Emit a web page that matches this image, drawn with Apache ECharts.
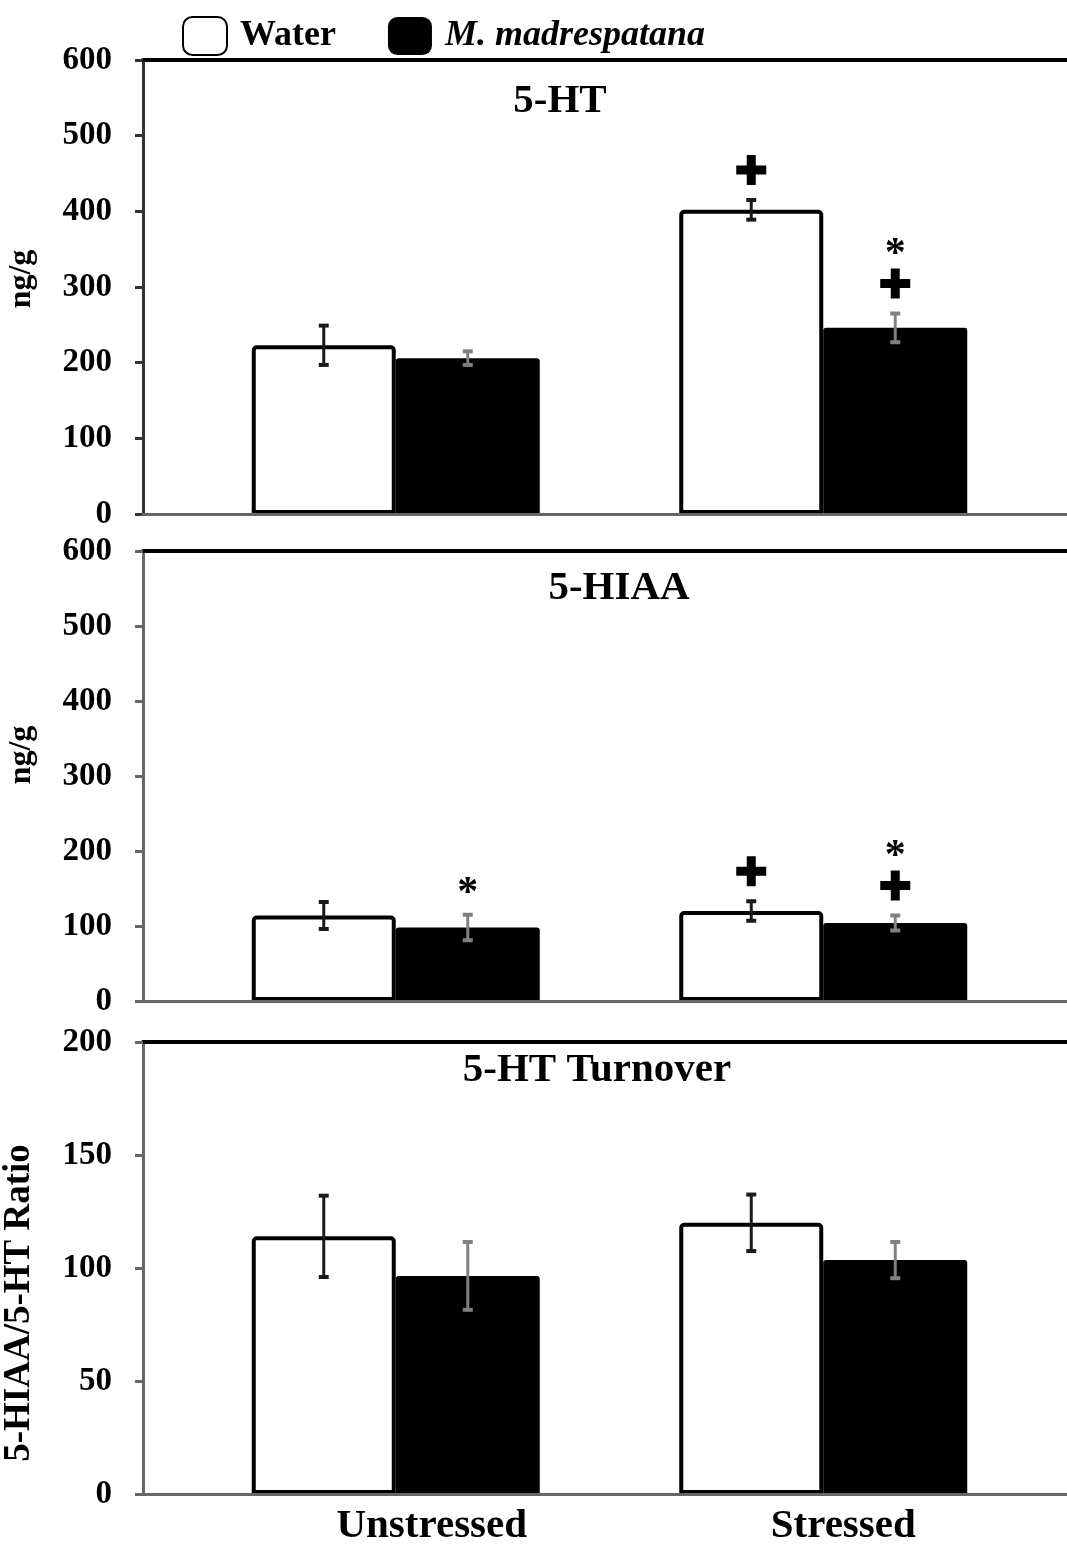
<!DOCTYPE html>
<html>
<head>
<meta charset="utf-8">
<script src="https://cdn.jsdelivr.net/npm/echarts@6/dist/echarts.min.js"></script>
<style>
  html, body { margin: 0; padding: 0; background: #fff; }
  #chart { width: 1067px; height: 1548px; }
</style>
</head>
<body>
<div id="chart"></div>
<script>
// ---- data ----
const categories = ['Unstressed', 'Stressed'];
const seriesNames = ['Water', 'M. madrespatana'];

// 5-HT (ng/g)
const htWater = [223, 402];
const htWaterErr = [26, 13];
const htMad = [206, 246];
const htMadErr = [9, 19];
const htWaterMarks = ['', '+'];
const htMadMarks = ['', '*+'];

// 5-HIAA (ng/g)
const hiaaWater = [114, 120];
const hiaaWaterErr = [18, 13];
const hiaaMad = [98, 104];
const hiaaMadErr = [17, 10];
const hiaaWaterMarks = ['', '+'];
const hiaaMadMarks = ['*', '*+'];

// 5-HT turnover (5-HIAA/5-HT ratio)
const ratioWater = [114, 120];
const ratioWaterErr = [18, 12.5];
const ratioMad = [96.5, 103.5];
const ratioMadErr = [15, 8];
const ratioWaterMarks = ['', ''];
const ratioMadMarks = ['', ''];

const FONT = '"Liberation Serif", "Times New Roman", serif';
const BAR_W = 144;

const panels = [
  { title: '5-HT', titleX: 555, titleY: 76, top: 60, height: 454, max: 600, interval: 100,
    name: 'ng/g', nameSize: 32, namePad: [0, 0, 0, 16], axisColor: '#333',
    water: htWater, waterErr: htWaterErr, mad: htMad, madErr: htMadErr,
    waterMarks: htWaterMarks, madMarks: htMadMarks },
  { title: '5-HIAA', titleX: 614, titleY: 563, top: 551, height: 450, max: 600, interval: 100,
    name: 'ng/g', nameSize: 32, namePad: [0, 0, 0, 42], axisColor: '#666',
    water: hiaaWater, waterErr: hiaaWaterErr, mad: hiaaMad, madErr: hiaaMadErr,
    waterMarks: hiaaWaterMarks, madMarks: hiaaMadMarks },
  { title: '5-HT Turnover', titleX: 592, titleY: 1045, top: 1042, height: 452, max: 200, interval: 50,
    name: '5-HIAA/5-HT Ratio', nameSize: 37, namePad: [0, 70, 0, 0], axisColor: '#666',
    water: ratioWater, waterErr: ratioWaterErr, mad: ratioMad, madErr: ratioMadErr,
    waterMarks: ratioWaterMarks, madMarks: ratioMadMarks }
];

function errorSeries(ax, ay, vals, errs, color, side) {
  return {
    type: 'custom', xAxisIndex: ax, yAxisIndex: ay, z: 5, silent: true,
    data: vals.map((v, i) => [i, v - errs[i], v + errs[i]]),
    encode: { x: 0, y: [1, 2] },
    renderItem(params, api) {
      const lo = api.coord([api.value(0), api.value(1)]);
      const hi = api.coord([api.value(0), api.value(2)]);
      const x = lo[0] + side * BAR_W / 2;
      const cap = 5;
      return {
        type: 'group',
        children: [
          { type: 'line', shape: { x1: x, y1: lo[1], x2: x, y2: hi[1] }, style: { stroke: color, lineWidth: 3 } },
          { type: 'line', shape: { x1: x - cap, y1: lo[1], x2: x + cap, y2: lo[1] }, style: { stroke: color, lineWidth: 4 } },
          { type: 'line', shape: { x1: x - cap, y1: hi[1], x2: x + cap, y2: hi[1] }, style: { stroke: color, lineWidth: 4 } }
        ]
      };
    }
  };
}

// significance marks (+ vs unstressed, * vs water), stacked above error bar
function markSeries(ax, ay, vals, errs, marks, side) {
  return {
    type: 'custom', xAxisIndex: ax, yAxisIndex: ay, z: 6, silent: true,
    data: vals.map((v, i) => [i, v + errs[i]]),
    encode: { x: 0, y: 1 },
    renderItem(params, api) {
      const mark = marks[params.dataIndex];
      if (!mark) return null;
      const pt = api.coord([api.value(0), api.value(1)]);
      const x = pt[0] + side * BAR_W / 2;
      const children = [];
      let y = pt[1] - 30;
      for (let k = mark.length - 1; k >= 0; k--) {
        if (mark[k] === '+') {
          children.push(
            { type: 'rect', shape: { x: x - 15, y: y - 4.5, width: 30, height: 9 }, style: { fill: '#000' } },
            { type: 'rect', shape: { x: x - 4.5, y: y - 15, width: 9, height: 30 }, style: { fill: '#000' } }
          );
        } else {
          children.push({
            type: 'text',
            style: { text: mark[k], x: x, y: y + 9, fill: '#000', font: 'bold 42px ' + FONT, align: 'center', verticalAlign: 'middle' }
          });
        }
        y -= 37;
      }
      return { type: 'group', children };
    }
  };
}

const grid = [], xAxis = [], yAxis = [], series = [], title = [];

panels.forEach((p, pi) => {
  const last = pi === panels.length - 1;
  const fi = grid.length;        // frame grid
  grid.push({ left: 143, right: 0, top: p.top, height: p.height, containLabel: false, outerBoundsMode: 'none' });
  const di = grid.length;        // data grid, offset so the bar pairs line up
  grid.push({ left: 182, right: 30, top: p.top, height: p.height, containLabel: false, outerBoundsMode: 'none' });

  title.push({
    text: p.title, left: p.titleX, top: p.titleY, textAlign: 'center',
    textStyle: { fontFamily: FONT, fontWeight: 'bold', fontSize: 41, color: '#000' }
  });

  // frame axes: bottom line, top border, left value axis
  xAxis.push({
    gridIndex: fi, type: 'category', data: ['', ''], z: 4,
    axisLine: { lineStyle: { color: '#666', width: 3 } },
    axisTick: { show: false }, axisLabel: { show: false }
  });
  xAxis.push({
    gridIndex: fi, type: 'category', data: ['', ''], position: 'top',
    axisLine: { lineStyle: { color: '#000', width: 4 } },
    axisTick: { show: false }, axisLabel: { show: false }
  });
  yAxis.push({
    gridIndex: fi, type: 'value', min: 0, max: p.max, interval: p.interval,
    axisLine: { show: true, lineStyle: { color: p.axisColor, width: 3 } },
    axisTick: { show: true, length: 8, lineStyle: { color: p.axisColor, width: 3 } },
    splitLine: { show: false },
    axisLabel: { margin: 31, fontFamily: FONT, fontWeight: 'bold', fontSize: 33, color: '#000' },
    name: p.name, nameLocation: 'middle', nameGap: 105,
    nameTextStyle: { fontFamily: FONT, fontWeight: 'bold', fontSize: p.nameSize, color: '#000', padding: p.namePad }
  });

  // data axes
  const ax = xAxis.length;
  xAxis.push({
    gridIndex: di, type: 'category',
    data: [
      { value: categories[0], textStyle: { padding: [0, 0, 0, 72] } },
      { value: categories[1], textStyle: { padding: [0, 0, 0, 40] } }
    ],
    axisLine: { show: false }, axisTick: { show: false },
    axisLabel: { show: last, margin: 12, fontFamily: FONT, fontWeight: 'bold', fontSize: 41, color: '#000' }
  });
  const ay = yAxis.length;
  yAxis.push({ gridIndex: di, type: 'value', min: 0, max: p.max, show: false });

  series.push({
    name: seriesNames[0], type: 'bar', xAxisIndex: ax, yAxisIndex: ay,
    barWidth: BAR_W, barGap: '0%', data: p.water,
    itemStyle: { color: '#fff', borderColor: '#000', borderWidth: 4, borderRadius: [3, 3, 0, 0] }
  });
  series.push({
    name: seriesNames[1], type: 'bar', xAxisIndex: ax, yAxisIndex: ay,
    barWidth: BAR_W, barGap: '0%', data: p.mad,
    itemStyle: { color: '#000', borderRadius: [3, 3, 0, 0] }
  });
  series.push(errorSeries(ax, ay, p.water, p.waterErr, '#1a1a1a', -1));
  series.push(errorSeries(ax, ay, p.mad, p.madErr, '#808080', 1));
  series.push(markSeries(ax, ay, p.water, p.waterErr, p.waterMarks, -1));
  series.push(markSeries(ax, ay, p.mad, p.madErr, p.madMarks, 1));
});

const chart = echarts.init(document.getElementById('chart'));
chart.setOption({
  animation: false,
  backgroundColor: '#fff',
  title,
  legend: {
    left: 177, top: 11, itemWidth: 44, itemHeight: 38, itemGap: 52,
    icon: 'roundRect',
    data: [
      { name: seriesNames[0] },
      { name: seriesNames[1], textStyle: { fontStyle: 'italic' } }
    ],
    textStyle: { fontFamily: FONT, fontWeight: 'bold', fontSize: 36, color: '#000', padding: [6, 0, 0, 8] }
  },
  grid, xAxis, yAxis, series
});
</script>
</body>
</html>
